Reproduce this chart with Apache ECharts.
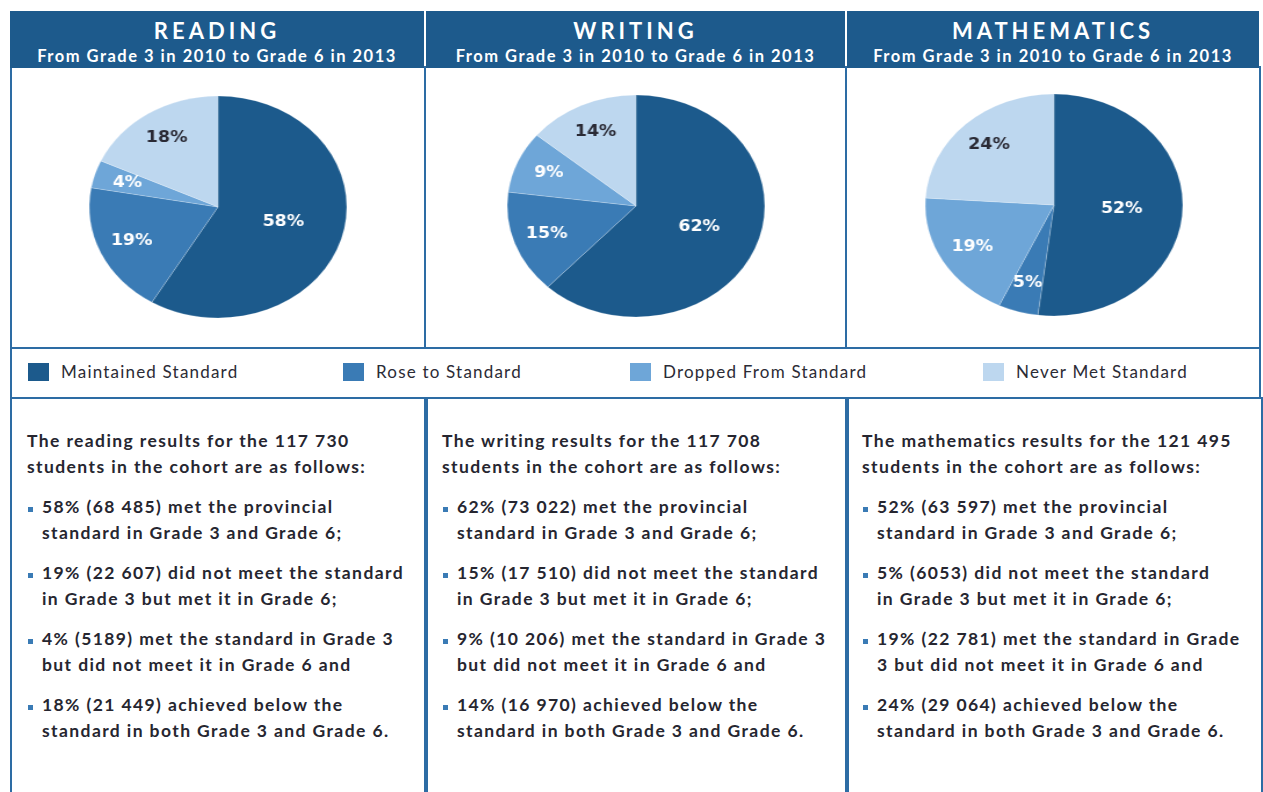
<!DOCTYPE html>
<html>
<head>
<meta charset="utf-8">
<script src="https://cdn.jsdelivr.net/npm/echarts@6.0.0/dist/echarts.min.js"></script>
<style>
    body { margin: 0; width: 1263px; height: 792px; background: #fff; position: relative; overflow: hidden; font-family: Lato, 'Open Sans', sans-serif; }
    .hdr { position: absolute; top: 11px; height: 57px; background: #1d5a8c; color: #fff; text-align: center; white-space: nowrap; }
    .hdr .t { font-weight: 700; font-size: 22px; letter-spacing: 4px; line-height: 22px; padding-top: 9px; }
    .hdr .s { font-weight: 700; font-size: 16.5px; line-height: 18px; letter-spacing: 1.5px; margin-top: 5px; }
    .box { position: absolute; border: 2px solid #2d6ca4; box-sizing: border-box; }
    .pie { position: absolute; width: 300px; height: 260px; transform: scaleX(1.16); transform-origin: 50% 50%; }
    .leg { position: absolute; top: 361px; display: flex; align-items: center; font-size: 17px; color: #2b2b35; letter-spacing: 1.2px; white-space: nowrap; }
    .leg i { display: inline-block; width: 21px; height: 18px; margin-right: 12px; }
    .txt { position: absolute; top: 428px; color: #262630; font-size: 17.5px; font-weight: 700; line-height: 26px; letter-spacing: 1.4px; white-space: nowrap; }
    .txt p { margin: 0 0 14px 0; }
    .txt .b { position: relative; padding-left: 15px; }
    .txt .b:before { content: ''; position: absolute; left: 1px; top: 13px; width: 5px; height: 5px; background: #3a7bb5; }
</style>
</head>
<body>
<div id="root"></div>
<script>
// --- Data ---
const subjects = ['READING', 'WRITING', 'MATHEMATICS'];
const subtitle = 'From Grade 3 in 2010 to Grade 6 in 2013';
const categories = ['Maintained Standard', 'Rose to Standard', 'Dropped From Standard', 'Never Met Standard'];
const colors = ['#1c5a8c', '#3a7bb5', '#6ea6d8', '#bdd7ef'];

const readingPct = [58, 19, 4, 18];
const writingPct = [62, 15, 9, 14];
const mathPct = [52, 5, 19, 24];

const cohortSizes = ['117 730', '117 708', '121 495'];
const readingCounts = ['68 485', '22 607', '5189', '21 449'];
const writingCounts = ['73 022', '17 510', '10 206', '16 970'];
const mathCounts = ['63 597', '6053', '22 781', '29 064'];

// text lines per panel (line breaks as printed)
const readingLines = [
    ['The reading results for the 117 730', 'students in the cohort are as follows:'],
    ['58% (68 485) met the provincial', 'standard in Grade 3 and Grade 6;'],
    ['19% (22 607) did not meet the standard', 'in Grade 3 but met it in Grade 6;'],
    ['4% (5189) met the standard in Grade 3', 'but did not meet it in Grade 6 and'],
    ['18% (21 449) achieved below the', 'standard in both Grade 3 and Grade 6.']
];
const writingLines = [
    ['The writing results for the 117 708', 'students in the cohort are as follows:'],
    ['62% (73 022) met the provincial', 'standard in Grade 3 and Grade 6;'],
    ['15% (17 510) did not meet the standard', 'in Grade 3 but met it in Grade 6;'],
    ['9% (10 206) met the standard in Grade 3', 'but did not meet it in Grade 6 and'],
    ['14% (16 970) achieved below the', 'standard in both Grade 3 and Grade 6.']
];
const mathLines = [
    ['The mathematics results for the 121 495', 'students in the cohort are as follows:'],
    ['52% (63 597) met the provincial', 'standard in Grade 3 and Grade 6;'],
    ['5% (6053) did not meet the standard', 'in Grade 3 but met it in Grade 6;'],
    ['19% (22 781) met the standard in Grade', '3 but did not meet it in Grade 6 and'],
    ['24% (29 064) achieved below the', 'standard in both Grade 3 and Grade 6.']
];

// --- Layout ---
const panels = [
    { left: 10, width: 416, hdrLeft: 10, hdrWidth: 414, cx: 218, cy: 207, pct: readingPct, lines: readingLines, txtLeft: 27 },
    { left: 424, width: 423, hdrLeft: 426, hdrWidth: 419, cx: 636, cy: 206, pct: writingPct, lines: writingLines, txtLeft: 442 },
    { left: 845, width: 416, hdrLeft: 847, hdrWidth: 412, cx: 1054, cy: 205, pct: mathPct, lines: mathLines, txtLeft: 862 }
];
const legendX = [28, 343, 630, 983];

const root = document.getElementById('root');
const el = (cls, style, html) => {
    const d = document.createElement('div');
    if (cls) d.className = cls;
    Object.assign(d.style, style);
    if (html) d.innerHTML = html;
    root.appendChild(d);
    return d;
};

panels.forEach((p, k) => {
    el('box', { left: p.left + 'px', top: '66px', width: p.width + 'px', height: '283px' });
    el('box', { left: p.left + 'px', top: '397px', width: (p.width + 2) + 'px', height: '420px' });
    el('hdr', { left: p.hdrLeft + 'px', width: p.hdrWidth + 'px' },
        `<div class="t">${subjects[k]}</div><div class="s">${subtitle}</div>`);
    const html = p.lines.map((ln, i) =>
        `<p class="${i ? 'b' : ''}">${ln.join('<br>')}</p>`).join('');
    el('txt', { left: p.txtLeft + 'px' }, html);
});
el('box', { left: '10px', top: '347px', width: '1251px', height: '52px' });

categories.forEach((c, i) => {
    el('leg', { left: legendX[i] + 'px' }, `<i style="background:${colors[i]}"></i>${c}`);
});

// --- Pies ---
const labelStyle = (i) => ({
    show: true,
    position: 'inside',
    formatter: '{c}%',
    fontFamily: 'DejaVu Sans',
    fontWeight: 'bold',
    fontSize: 15,
    color: i === 3 ? '#2a2a35' : '#ffffff'
});

panels.forEach((p) => {
    const div = el('pie', { left: (p.cx - 150) + 'px', top: (p.cy - 130) + 'px' });
    const chart = echarts.init(div, null, { renderer: 'canvas' });
    const R = 111;
    chart.setOption({
        animation: false,
        series: [
            {
                type: 'pie',
                radius: [0, R],
                center: ['50%', '50%'],
                startAngle: 90,
                clockwise: true,
                silent: true,
                data: p.pct.map((v, i) => ({
                    name: categories[i], value: v,
                    itemStyle: { color: colors[i], borderColor: 'rgba(255,255,255,0.35)', borderWidth: 0.6 },
                    label: i === 0 ? labelStyle(i) : { show: false }
                })),
                labelLine: { show: false }
            },
            {
                // transparent ring used only to place the small-slice labels further out
                type: 'pie',
                radius: [R * 0.42, R],
                center: ['50%', '50%'],
                startAngle: 90,
                clockwise: true,
                silent: true,
                data: p.pct.map((v, i) => ({
                    name: categories[i], value: v,
                    itemStyle: { color: 'rgba(0,0,0,0)' },
                    label: i === 0 ? { show: false } : labelStyle(i)
                })),
                labelLine: { show: false }
            }
        ]
    });
});
</script>
</body>
</html>
